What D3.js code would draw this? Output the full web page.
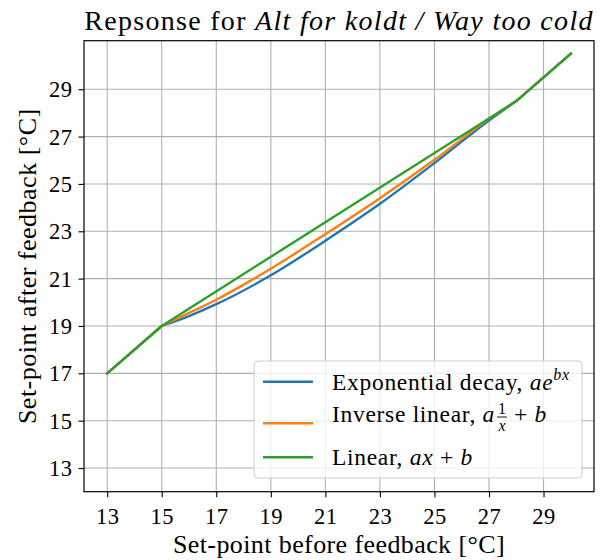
<!DOCTYPE html>
<html><head><meta charset="utf-8">
<script src="https://cdn.jsdelivr.net/npm/d3@7"></script>
<style>
body{margin:0;background:#fff}
text{font-family:"Liberation Serif","DejaVu Serif",serif;fill:#000}
</style>
</head><body>
<svg id="c" width="610" height="560"></svg>
<script>
// ---- data ----
const xTicks = [13,15,17,19,21,23,25,27,29];
const yTicks = [13,15,17,19,21,23,25,27,29];
const expX   = [13,15,16,17,19,21,23,25,27,28,30];
const expY   = [17,19,19.42,19.92,21.14,22.6,24.16,25.88,27.68,28.5,30.5];
const invX   = [13,15,16,17,19,21,23,25,27,28,30];
const invY   = [17,19,19.55,20.11,21.42,22.88,24.4,26.02,27.75,28.5,30.5];
const linX   = [13,15,28,30];
const linY   = [17,19,28.5,30.5];
const seriesNames = ["Exponential decay","Inverse linear","Linear"];
const colors = ["#1f77b4","#ff7f0e","#2ca02c"];
const fitStart = 15, fitEnd = 28;

const svg = d3.select("#c");
const L=84, R=594, T=40.7, B=491.7;
const x = d3.scaleLinear().domain([12.15,30.85]).range([L,R]);
const y = d3.scaleLinear().domain([12.0,31.05]).range([B,T]);

// grid
const g = svg.append("g");
g.selectAll(".gx").data(xTicks).join("line")
  .attr("x1",d=>x(d)).attr("x2",d=>x(d)).attr("y1",T).attr("y2",B)
  .attr("stroke","#b0b0b0").attr("stroke-width",1.1);
g.selectAll(".gy").data(yTicks).join("line")
  .attr("y1",d=>y(d)).attr("y2",d=>y(d)).attr("x1",L).attr("x2",R)
  .attr("stroke","#b0b0b0").attr("stroke-width",1.1);

// lines
const lineLin = d3.line().x(d=>x(d[0])).y(d=>y(d[1]));
const lineCurve = d3.line().x(d=>x(d[0])).y(d=>y(d[1])).curve(d3.curveMonotoneX);
const series = [
  d3.zip(expX,expY),
  d3.zip(invX,invY),
  d3.zip(linX,linY)
];
series.forEach((s,i)=>{
  const a = s.filter(p=>p[0]<=fitStart);
  const m = s.filter(p=>p[0]>=fitStart && p[0]<=fitEnd);
  const b = s.filter(p=>p[0]>=fitEnd);
  const d = lineLin(a) + lineCurve(m).replace(/^M/,"L") + lineLin(b).replace(/^M/,"L");
  svg.append("path").attr("d",d).attr("fill","none")
    .attr("stroke",colors[i]).attr("stroke-width",2.4)
    .attr("stroke-linejoin","round").attr("stroke-linecap","square");
});

// axes
const xa = svg.append("g").attr("transform",`translate(0,${B})`)
  .call(d3.axisBottom(x).tickValues(xTicks).tickSize(5.5).tickPadding(6).tickFormat(d3.format("d")));
const ya = svg.append("g").attr("transform",`translate(${L},0)`)
  .call(d3.axisLeft(y).tickValues(yTicks).tickSize(5.5).tickPadding(6).tickFormat(d3.format("d")));
[xa,ya].forEach(a=>{
  a.select(".domain").remove();
  a.selectAll(".tick line").attr("stroke","#000").attr("stroke-width",1.1);
  a.selectAll(".tick text").style("font-family",'"Liberation Serif",serif').style("font-size","22.5px")
   .style("letter-spacing","0.5px").attr("fill","#000");
});
xa.selectAll(".tick text").attr("dy","0.92em");
ya.selectAll(".tick text").attr("dy","0.34em");

// frame
svg.append("rect").attr("x",L).attr("y",T).attr("width",R-L).attr("height",B-T)
  .attr("fill","none").attr("stroke","#000").attr("stroke-width",1.2);

// title
const title = svg.append("text").attr("x",(L+R)/2).attr("y",30).attr("text-anchor","middle")
  .style("font-size","28px").style("letter-spacing","1.3px");
title.append("tspan").text("Repsonse for ");
title.append("tspan").style("font-style","italic").text("Alt for koldt / Way too cold");

// axis labels
svg.append("text").attr("x",(L+R)/2).attr("y",553).attr("text-anchor","middle")
  .style("font-size","26px").style("letter-spacing","0.4px").text("Set-point before feedback [°C]");
svg.append("text").attr("transform",`translate(36,${(T+B)/2}) rotate(-90)`).attr("text-anchor","middle")
  .style("font-size","26px").style("letter-spacing","0.5px").text("Set-point after feedback [°C]");

// legend
const lg = svg.append("g");
lg.append("rect").attr("x",254).attr("y",361).attr("width",328).attr("height",117).attr("rx",4)
  .attr("fill","#fff").attr("fill-opacity",0.8).attr("stroke","#cccccc").attr("stroke-width",1);
const rowsLine = [381.7,423.3,457.3];
rowsLine.forEach((ry,i)=>{
  lg.append("line").attr("x1",263).attr("x2",313).attr("y1",ry).attr("y2",ry)
    .attr("stroke",colors[i]).attr("stroke-width",2.4);
});
const fs = "23.5px", ls = "0.7px";
// row 1
const t1 = lg.append("text").attr("x",332).attr("y",390).style("font-size",fs).style("letter-spacing",ls);
t1.append("tspan").text(seriesNames[0]+", ");
t1.append("tspan").style("font-style","italic").text("ae");
t1.append("tspan").style("font-style","italic").style("font-size","16px").attr("dy",-10).text("bx");
// row 2
const t2 = lg.append("text").attr("x",332).attr("y",422).style("font-size",fs).style("letter-spacing",ls);
t2.append("tspan").text(seriesNames[1]+", ");
t2.append("tspan").style("font-style","italic").text("a");
const w2 = t2.node().getComputedTextLength();
const fx = 332 + w2 + 1;
lg.append("text").attr("x",fx+6).attr("y",414).attr("text-anchor","middle").style("font-size","16px").text("1");
lg.append("line").attr("x1",fx+1).attr("x2",fx+11).attr("y1",417).attr("y2",417).attr("stroke","#000").attr("stroke-width",0.9);
lg.append("text").attr("x",fx+6).attr("y",431).attr("text-anchor","middle").style("font-size","16px").style("font-style","italic").text("x");
const t2b = lg.append("text").attr("x",fx+18).attr("y",422).style("font-size",fs).style("letter-spacing",ls);
t2b.append("tspan").text("+ ");
t2b.append("tspan").style("font-style","italic").text("b");
// row 3
const t3 = lg.append("text").attr("x",332).attr("y",465).style("font-size",fs).style("letter-spacing",ls);
t3.append("tspan").text(seriesNames[2]+", ");
t3.append("tspan").style("font-style","italic").text("ax");
t3.append("tspan").text(" + ");
t3.append("tspan").style("font-style","italic").text("b");
</script>
</body></html>
